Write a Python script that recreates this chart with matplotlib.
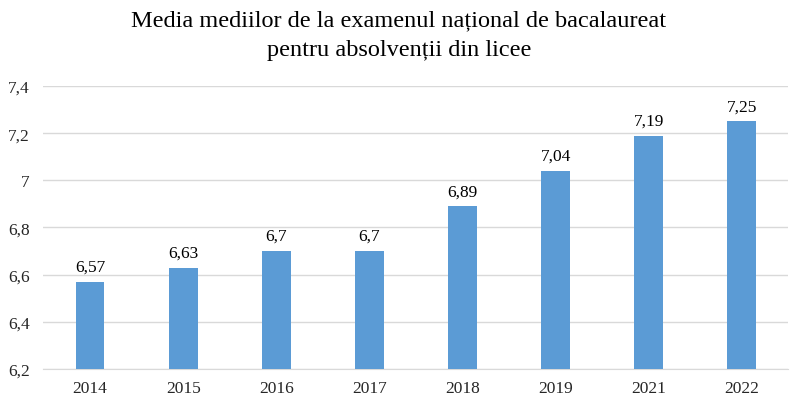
import matplotlib
matplotlib.use("Agg")
import matplotlib.pyplot as plt
from matplotlib.ticker import FuncFormatter, MultipleLocator

years = ["2014", "2015", "2016", "2017", "2018", "2019", "2021", "2022"]
values = [6.57, 6.63, 6.7, 6.7, 6.89, 7.04, 7.19, 7.25]
title = "Media mediilor de la examenul național de bacalaureat\npentru absolvenții din licee"

plt.rcParams['font.family'] = ['Liberation Serif', 'DejaVu Serif']

def fmt(v):
    s = ("%.2f" % v).rstrip('0').rstrip('.')
    return s.replace('.', ',')

fig = plt.figure(figsize=(7.98, 4.06), dpi=100)
ax = fig.add_axes([0.0545, 0.0887, 0.9335, 0.697])
x = list(range(len(years)))
ax.bar(x, [v - 6.2 for v in values], bottom=6.2, width=0.31, color='#5B9BD5', zorder=3)
for xi, v in zip(x, values):
    ax.annotate(fmt(v), (xi, v), xytext=(0, 5), textcoords='offset points',
                ha='center', va='bottom', fontsize=12.5, color='#000000')
ax.set_ylim(6.2, 7.4)
ax.set_xlim(-0.5, len(years) - 0.5)
ax.yaxis.set_major_locator(MultipleLocator(0.2))
ax.yaxis.set_major_formatter(FuncFormatter(lambda v, p: fmt(round(v, 2))))
ax.set_xticks(x)
ax.set_xticklabels(years)
ax.grid(axis='y', color='#D9D9D9', linewidth=1, zorder=0)
for s in ['top', 'right', 'left']:
    ax.spines[s].set_visible(False)
ax.spines['bottom'].set_color('#D9D9D9')
ax.tick_params(axis='both', length=0, labelsize=12.5, colors='#262626')
ax.tick_params(axis='y', pad=10)
ax.tick_params(axis='x', pad=8)
fig.suptitle(title, fontsize=17.5, y=0.975, va='top', linespacing=1.55)
fig.savefig("out.png", dpi=100)
